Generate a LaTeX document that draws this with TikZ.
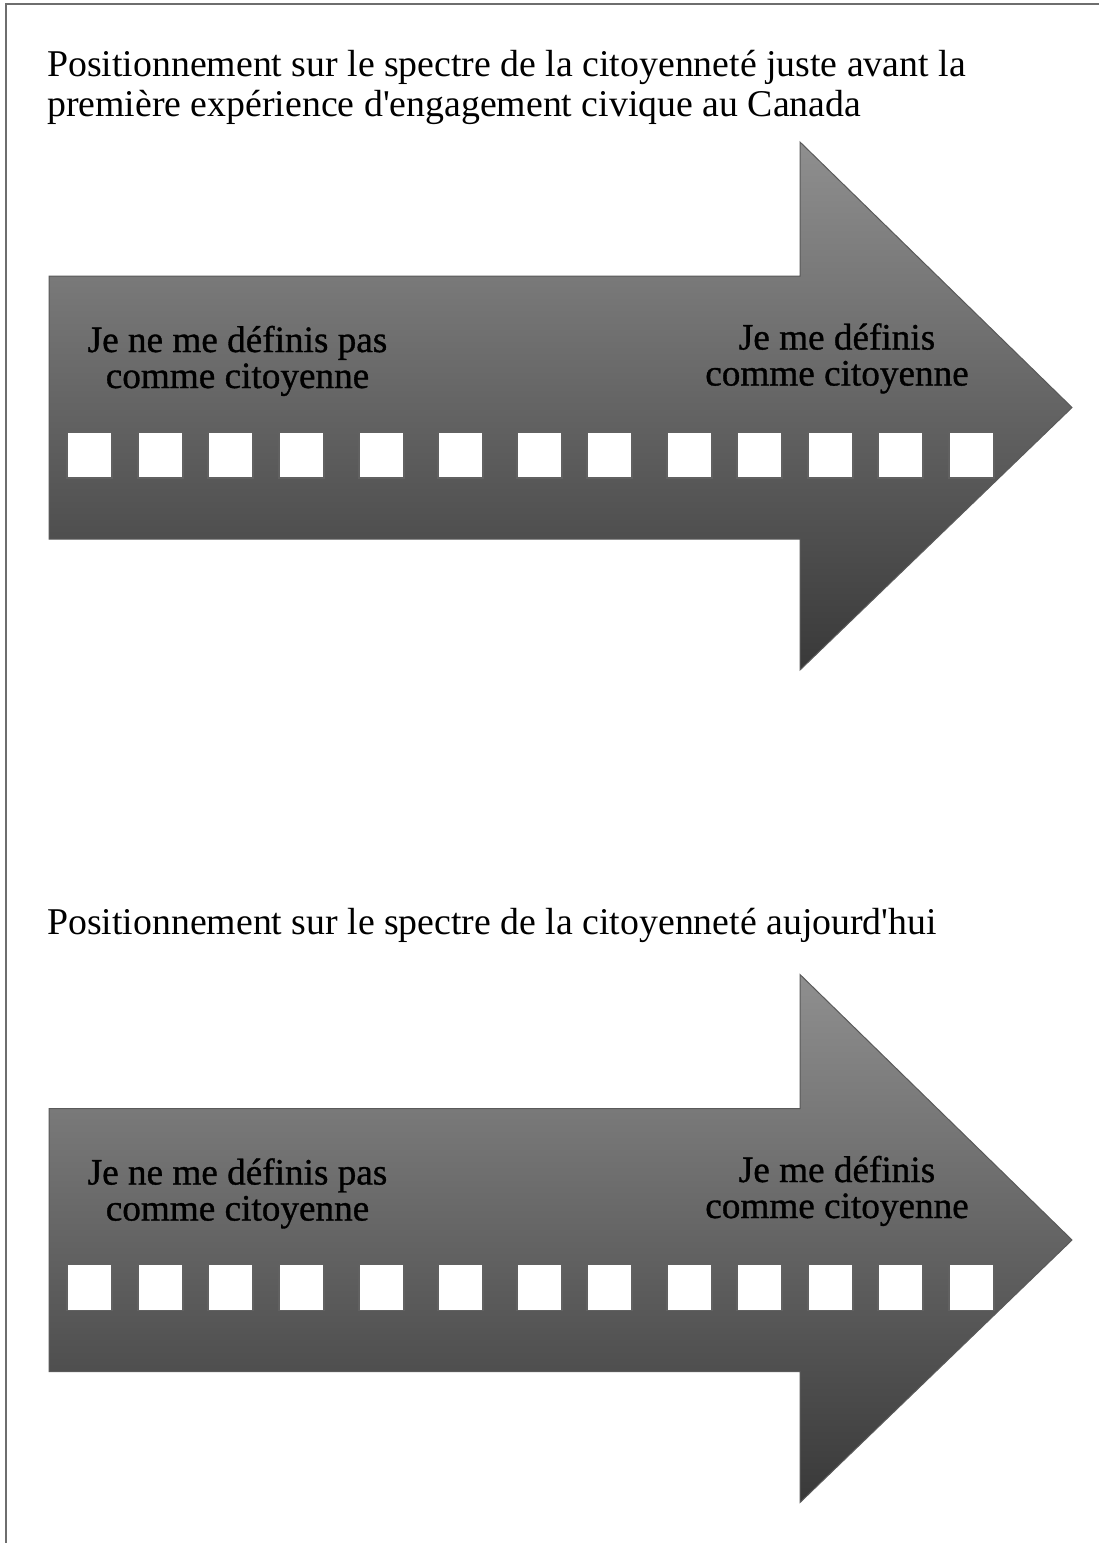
\documentclass[tikz,border=0pt]{standalone}
\usepackage{fontspec}
\setmainfont{Liberation Serif}[Ligatures={TeXOff,CommonOff}]
\newfontfamily\spectrumfont{Liberation Serif}[Ligatures={TeXOff,CommonOff},FakeBold=0.9]

\definecolor{arrowtop}{HTML}{8F8F8F}
\definecolor{arrowbottom}{HTML}{393939}
\definecolor{arrowedge}{HTML}{5A5A5A}
\definecolor{framegray}{HTML}{6E6E6E}

\tikzset{
  heading/.style={anchor=base west, inner sep=0pt, text=black,
    font=\fontsize{37.8}{40}\selectfont},
  spectrumlabel/.style={anchor=base, inner sep=0pt, text=black,
    font=\spectrumfont\fontsize{37.2}{36}\selectfont},
  tickbox/.style={draw=black!62, line width=1.2pt, fill=white,
    minimum width=45pt, minimum height=46pt, inner sep=0pt},
  bigarrow/.style={top color=arrowtop, bottom color=arrowbottom,
    draw=arrowedge, line width=1pt, line join=miter}
}

% one spectrum arrow, its centre line at height #2, boxes named #1-1 .. #1-13
\newcommand{\spectrum}[2]{%
  \shade[bigarrow]
    (49,#2-131.5) -- (800,#2-131.5) -- (800,#2-265.5) -- (1072,#2)
    -- (800,#2+262.5) -- (800,#2+131.5) -- (49,#2+131.5) -- cycle;
  \node[spectrumlabel] (#1-left-a)  at (237.5,#2-55.5) {Je ne me définis pas};
  \node[spectrumlabel] (#1-left-b)  at (237.5,#2-19.5) {comme citoyenne};
  \node[spectrumlabel] (#1-right-a) at (837,#2-58) {Je me définis};
  \node[spectrumlabel] (#1-right-b) at (837,#2-22) {comme citoyenne};
  \foreach \bx [count=\k] in {67,138,208,279,359,438,517,587,667,737,808,878,949}
    \node[tickbox] (#1-\k) at (\bx+22.5,#2+47.5) {};
}

\begin{document}
\begin{tikzpicture}[x=1pt,y=-1pt]
  \useasboundingbox (0,0) rectangle (1099,1543);
  \fill[white] (0,0) rectangle (1099,1543);

  % page frame: left and top edges
  \draw[framegray, line width=1.4pt] (6,1543) -- (6,4) -- (1099,4);

  % first spectrum
  \node[heading] (title1a) at (47,76)
    {Positionnement sur le spectre de la citoyenneté juste avant la};
  \node[heading] (title1b) at (47,116)
    {première expérience d'engagement civique au Canada};
  \spectrum{before}{407.5}

  % second spectrum
  \node[heading] (title2) at (47,934)
    {Positionnement sur le spectre de la citoyenneté aujourd'hui};
  \spectrum{today}{1240}
\end{tikzpicture}
\end{document}
